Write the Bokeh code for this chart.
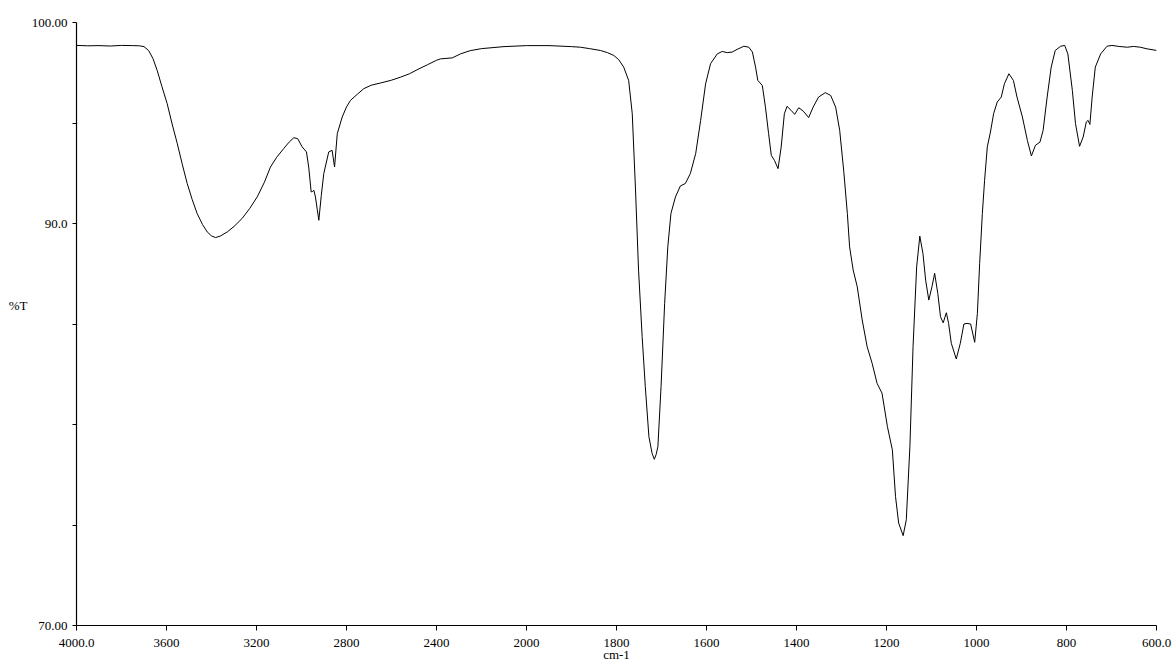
import numpy as np
from bokeh.plotting import figure
from bokeh.models import Range1d, FixedTicker, LinearAxis, ColumnDataSource
from bokeh.embed import file_html
from bokeh.resources import INLINE

# ---- data ----
wavenumber = [4000, 3950, 3900, 3850, 3800, 3750, 3720, 3700, 3679, 3660, 3641, 3620, 3597, 3575,
              3552, 3530, 3508, 3486, 3464, 3440, 3419, 3400, 3382, 3360, 3330, 3300, 3264, 3230,
              3197, 3165, 3138, 3110, 3079, 3055, 3034, 3017, 2997, 2978, 2968, 2957, 2950, 2945,
              2938, 2930, 2923, 2912, 2901, 2879, 2864, 2853, 2841, 2819, 2800, 2782, 2750, 2723,
              2690, 2649, 2600, 2560, 2520, 2486, 2440, 2400, 2382, 2330, 2293, 2250, 2200, 2100,
              2000, 1950, 1900, 1880, 1860, 1836, 1820, 1806, 1795, 1784, 1773, 1765, 1758, 1751,
              1743, 1736, 1728, 1721, 1716, 1712, 1708, 1701, 1693, 1686, 1679, 1669, 1658, 1647,
              1636, 1624, 1613, 1602, 1591, 1576, 1565, 1554, 1543, 1532, 1517, 1506, 1498, 1491,
              1486, 1476, 1469, 1462, 1456, 1449, 1441, 1434, 1427, 1421, 1412, 1404, 1395, 1385,
              1373, 1363, 1351, 1336, 1324, 1313, 1304, 1295, 1287, 1282, 1274, 1265, 1254, 1243,
              1232, 1221, 1210, 1198, 1187, 1180, 1173, 1163, 1156, 1148, 1141, 1133, 1126, 1119,
              1113, 1106, 1099, 1093, 1086, 1080, 1074, 1067, 1062, 1056, 1045, 1036, 1028, 1021,
              1013, 1004, 998, 993, 987, 982, 976, 969, 962, 954, 945, 938, 928, 918, 910, 898,
              887, 878, 869, 859, 852, 843, 834, 825, 813, 804, 797, 787, 780, 771, 763, 756, 752,
              748, 743, 736, 724, 710, 699, 684, 665, 651, 636, 621, 600]
transmittance = [98.86, 98.84, 98.85, 98.83, 98.86, 98.85, 98.84, 98.80, 98.60, 98.20, 97.60, 96.80,
                 95.96, 94.95, 93.97, 92.95, 91.99, 91.20, 90.50, 89.95, 89.58, 89.38, 89.30, 89.38,
                 89.58, 89.85, 90.25, 90.75, 91.32, 92.05, 92.81, 93.30, 93.73, 94.05, 94.27, 94.22,
                 93.81, 93.56, 92.81, 91.57, 91.60, 91.65, 91.32, 90.70, 90.16, 91.40, 92.48, 93.56,
                 93.64, 92.81, 94.47, 95.30, 95.80, 96.13, 96.45, 96.71, 96.88, 96.99, 97.13, 97.28,
                 97.45, 97.65, 97.90, 98.12, 98.19, 98.24, 98.44, 98.60, 98.70, 98.80, 98.85, 98.85,
                 98.80, 98.77, 98.70, 98.61, 98.50, 98.36, 98.15, 97.78, 97.12, 95.46, 91.82, 87.68,
                 84.37, 81.88, 79.40, 78.57, 78.27, 78.50, 78.90, 81.88, 86.03, 88.84, 90.50, 91.32,
                 91.87, 91.99, 92.48, 93.48, 95.13, 96.95, 97.95, 98.44, 98.56, 98.50, 98.53, 98.66,
                 98.82, 98.77, 98.53, 97.78, 97.12, 96.87, 95.79, 94.47, 93.39, 93.14, 92.73, 93.81,
                 95.46, 95.83, 95.63, 95.43, 95.76, 95.59, 95.27, 95.79, 96.29, 96.51, 96.37, 95.79,
                 94.63, 92.60, 90.50, 88.84, 87.68, 86.85, 85.20, 83.87, 83.05, 82.05, 81.56, 79.90,
                 78.74, 76.42, 75.10, 74.47, 75.26, 78.90, 83.87, 87.84, 89.37, 88.51, 87.18, 86.19,
                 86.85, 87.52, 86.52, 85.36, 85.06, 85.56, 85.03, 84.04, 83.26, 84.04, 85.00, 85.03,
                 85.00, 84.09, 85.53, 88.01, 90.50, 92.15, 93.81, 94.55, 95.46, 96.04, 96.29, 96.95,
                 97.45, 97.12, 96.29, 95.30, 94.14, 93.36, 93.89, 94.05, 94.63, 96.29, 97.78, 98.61,
                 98.82, 98.86, 98.44, 96.62, 94.97, 93.84, 94.30, 95.05, 95.13, 94.93, 96.29, 97.78,
                 98.44, 98.82, 98.86, 98.81, 98.77, 98.81, 98.77, 98.69, 98.61]

x_tick_values = [4000, 3600, 3200, 2800, 2400, 2000, 1800, 1600, 1400, 1200, 1000, 800, 600]
x_tick_labels = ["4000.0", "3600", "3200", "2800", "2400", "2000", "1800", "1600", "1400",
                 "1200", "1000", "800", "600.0"]
y_tick_values = [70, 75, 80, 85, 90, 95, 100]
y_tick_labels = ["70.00", "", "", "", "90.0", "", "100.00"]
y_title = "%T"
y_title_at = 85.9
x_title = "cm-1"


# IR spectrometer split abscissa: 2x expansion below 2000 cm-1
def to_pos(w):
    w = np.asarray(w, dtype=float)
    return np.where(w >= 2000, (4000.0 - w) / 2.0, 1000.0 + (2000.0 - w))


src = ColumnDataSource(dict(x=to_pos(wavenumber), y=transmittance))

FONT = "'Liberation Serif', 'Times New Roman', Times, serif"

p = figure(width=1173, height=664, output_backend="svg", toolbar_location=None,
           x_range=Range1d(float(to_pos(4000)), float(to_pos(600))),
           y_range=Range1d(70, 100),
           min_border_left=76, min_border_right=17, min_border_top=22, min_border_bottom=38)
p.outline_line_color = None
p.xgrid.visible = False
p.ygrid.visible = False
p.background_fill_color = "white"
p.border_fill_color = "white"

p.line("x", "y", source=src, line_color="black", line_width=1.0)

xt = [float(v) for v in to_pos(x_tick_values)]
p.xaxis.ticker = FixedTicker(ticks=xt, minor_ticks=[])
p.xaxis.major_label_overrides = {t: lab for t, lab in zip(xt, x_tick_labels)}
p.yaxis.ticker = FixedTicker(ticks=y_tick_values, minor_ticks=[])
p.yaxis.major_label_overrides = {t: lab for t, lab in zip(y_tick_values, y_tick_labels)}


def style(ax):
    ax.axis_line_color = "black"
    ax.axis_line_width = 1.2
    ax.major_tick_line_color = "black"
    ax.major_tick_in = 0
    ax.minor_tick_line_color = None
    ax.major_label_text_font = FONT
    ax.major_label_text_font_size = "13px"
    ax.major_label_text_color = "black"
    ax.axis_label_text_font = FONT
    ax.axis_label_text_font_size = "13px"
    ax.axis_label_text_font_style = "normal"
    ax.axis_label_text_color = "black"


style(p.xaxis[0])
style(p.yaxis[0])

p.xaxis.major_tick_out = 5
p.xaxis.major_label_standoff = 8
p.xaxis.axis_label = x_title
p.xaxis.axis_label_standoff = -3
p.yaxis.major_tick_out = 4
p.yaxis.major_label_standoff = 5

# outer left axis carrying the "%T" title at its position on the scale
title_axis = LinearAxis(ticker=FixedTicker(ticks=[y_title_at], minor_ticks=[]),
                        major_label_overrides={y_title_at: y_title})
style(title_axis)
title_axis.axis_line_color = None
title_axis.major_tick_line_color = None
title_axis.major_tick_out = 0
title_axis.major_label_standoff = 1
p.add_layout(title_axis, "left")

open("out.html", "w").write(file_html(p, INLINE))
